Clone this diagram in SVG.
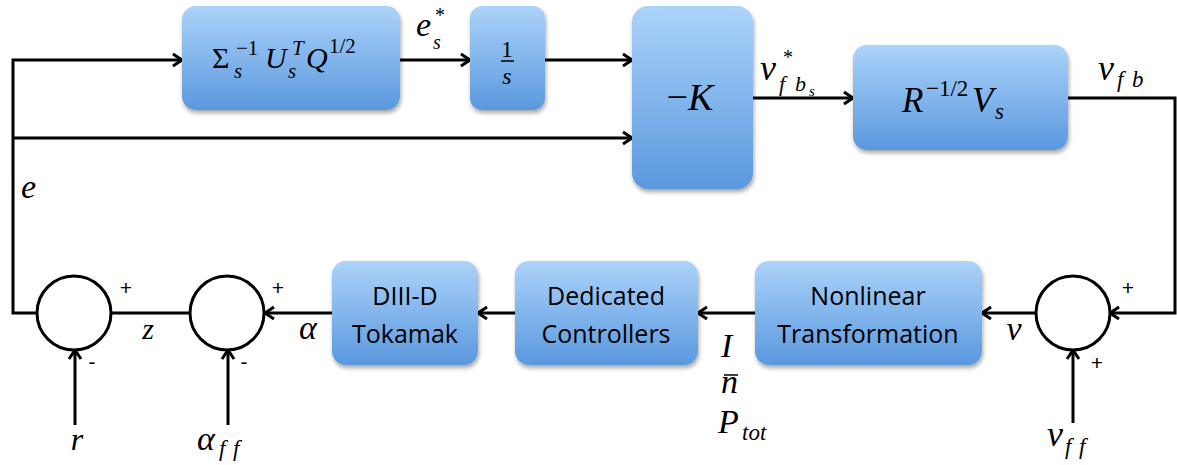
<svg xmlns="http://www.w3.org/2000/svg" width="1177" height="465" viewBox="0 0 1177 465">
<style>
.box{fill:url(#g);filter:url(#sh)}
.ln{fill:none;stroke:#000;stroke-width:3}
.arr{marker-end:url(#ah)}
.m{font-family:"Liberation Serif","DejaVu Serif",serif;font-style:italic;fill:#000}
.up{font-style:normal}
.t{font-family:"Open Sans","Liberation Sans",sans-serif;font-size:25px;fill:#000;text-anchor:middle}
.sg{font-family:"Liberation Sans",sans-serif;font-size:21px;fill:#000;text-anchor:middle}
.c{fill:#fff;stroke:#000;stroke-width:3}
</style>
<defs>
<linearGradient id="g" x1="0" y1="0" x2="0" y2="1">
<stop offset="0" stop-color="#acd3fa"/>
<stop offset="1" stop-color="#5a98de"/>
</linearGradient>
<filter id="sh" x="-10%" y="-10%" width="125%" height="130%">
<feDropShadow dx="1" dy="3" stdDeviation="2" flood-color="#000" flood-opacity="0.35"/>
</filter>
<marker id="ah" markerUnits="userSpaceOnUse" markerWidth="14" markerHeight="16" refX="12" refY="8" orient="auto" viewBox="0 0 14 16">
<path d="M3,2 L12,8 L3,14" fill="none" stroke="#000" stroke-width="3"/>
</marker>
</defs>
<rect width="1177" height="465" fill="#fff"/>

<g id="connectors">
<path class="ln arr" d="M37,313 H13 V60 H182"/>
<path class="ln arr" d="M13,138 H632"/>
<path class="ln arr" d="M400,60 H470"/>
<path class="ln arr" d="M545,60 H632"/>
<path class="ln arr" d="M753,98 H853"/>
<path class="ln arr" d="M1068,98 H1175 V313 H1110"/>
<path class="ln arr" d="M1036,313 H982"/>
<path class="ln arr" d="M755,313 H698"/>
<path class="ln arr" d="M515,313 H478"/>
<path class="ln arr" d="M332,313 H265"/>
<path class="ln" d="M190,313 H112"/>
<path class="ln arr" d="M75,425 V350"/>
<path class="ln arr" d="M228,425 V350"/>
<path class="ln arr" d="M1073,423 V350"/>
</g>

<g id="n-sigma">
<rect class="box" x="182" y="6" width="218" height="104" rx="14"/>
<text class="m up" x="212" y="68" font-size="30">Σ</text>
<text class="m" x="234" y="78" font-size="21">s</text>
<text class="m up" x="236" y="55" font-size="21">−1</text>
<text class="m" x="265" y="68" font-size="30">U</text>
<text class="m" x="288" y="78" font-size="21">s</text>
<text class="m" x="292" y="55" font-size="21">T</text>
<text class="m" x="306" y="68" font-size="30">Q</text>
<text class="m up" x="329" y="53" font-size="21">1/2</text>
</g>

<g id="n-int">
<rect class="box" x="470" y="6" width="75" height="104" rx="12"/>
<text class="m up" x="507" y="57" font-size="23" text-anchor="middle">1</text>
<line x1="501" y1="61" x2="514" y2="61" stroke="#000" stroke-width="1.5"/>
<text class="m" x="507" y="84" font-size="24" text-anchor="middle">s</text>
</g>

<g id="n-K">
<rect class="box" x="632" y="6" width="121" height="183" rx="16"/>
<text class="m" x="690" y="110" font-size="38" text-anchor="middle"><tspan class="up">−</tspan>K</text>
</g>

<g id="n-R">
<rect class="box" x="853" y="45" width="215" height="105" rx="14"/>
<text class="m" x="902" y="112" font-size="35">R</text>
<text class="m up" x="926" y="96" font-size="23">−1/2</text>
<text class="m" x="972" y="112" font-size="35">V</text>
<text class="m" x="995" y="119" font-size="23">s</text>
</g>

<g id="n-tokamak">
<rect class="box" x="332" y="261" width="146" height="104" rx="14"/>
<text class="t" x="405" y="305">DIII-D</text>
<text class="t" x="405" y="343">Tokamak</text>
</g>

<g id="n-dedicated">
<rect class="box" x="515" y="261" width="183" height="104" rx="14"/>
<text class="t" x="606" y="305">Dedicated</text>
<text class="t" x="606" y="343">Controllers</text>
</g>

<g id="n-nonlinear">
<rect class="box" x="755" y="261" width="227" height="104" rx="14"/>
<text class="t" x="868" y="305">Nonlinear</text>
<text class="t" x="868" y="343">Transformation</text>
</g>

<g id="sum1">
<circle class="c" cx="74" cy="313" r="37"/>
<text class="sg" x="126" y="295">+</text>
<text class="sg" x="92" y="369">-</text>
</g>
<g id="sum2">
<circle class="c" cx="227" cy="313" r="37"/>
<text class="sg" x="278" y="295">+</text>
<text class="sg" x="244" y="369">-</text>
</g>
<g id="sum3">
<circle class="c" cx="1073" cy="313" r="37"/>
<text class="sg" x="1128" y="295">+</text>
<text class="sg" x="1097" y="370">+</text>
</g>

<g id="labels">
<text class="m" x="416" y="36" font-size="34">e</text>
<text class="m" x="433" y="49" font-size="20">s</text>
<text class="m up" x="435" y="22" font-size="20">*</text>
<text class="m" x="760" y="80" font-size="36">v</text>
<text class="m" x="779" y="91" font-size="22">f</text>
<text class="m" x="795" y="91" font-size="22">b</text>
<text class="m" x="809" y="96" font-size="15">s</text>
<text class="m up" x="783" y="64" font-size="20">*</text>
<text class="m" x="1098" y="80" font-size="36">v</text>
<text class="m" x="1117" y="87" font-size="23">f</text>
<text class="m" x="1132" y="87" font-size="23">b</text>
<text class="m" x="21" y="198" font-size="34">e</text>
<text class="m" x="148" y="339" font-size="30" text-anchor="middle">z</text>
<text class="m" x="308" y="339" font-size="34" text-anchor="middle">α</text>
<text class="m" x="77" y="450" font-size="32" text-anchor="middle">r</text>
<text class="m" x="197" y="450" font-size="34">α</text>
<text class="m" x="219" y="456" font-size="23">f</text>
<text class="m" x="233" y="456" font-size="23">f</text>
<text class="m" x="721" y="357" font-size="34">I</text>
<text class="m" x="721" y="393" font-size="34">n</text>
<line x1="724" y1="375" x2="738" y2="375" stroke="#000" stroke-width="1.5"/>
<text class="m" x="718" y="433" font-size="34">P</text>
<text class="m" x="742" y="440" font-size="23">tot</text>
<text class="m" x="1014" y="340" font-size="34" text-anchor="middle">v</text>
<text class="m" x="1047" y="446" font-size="36">v</text>
<text class="m" x="1065" y="454" font-size="23">f</text>
<text class="m" x="1079" y="454" font-size="23">f</text>
</g>
</svg>
